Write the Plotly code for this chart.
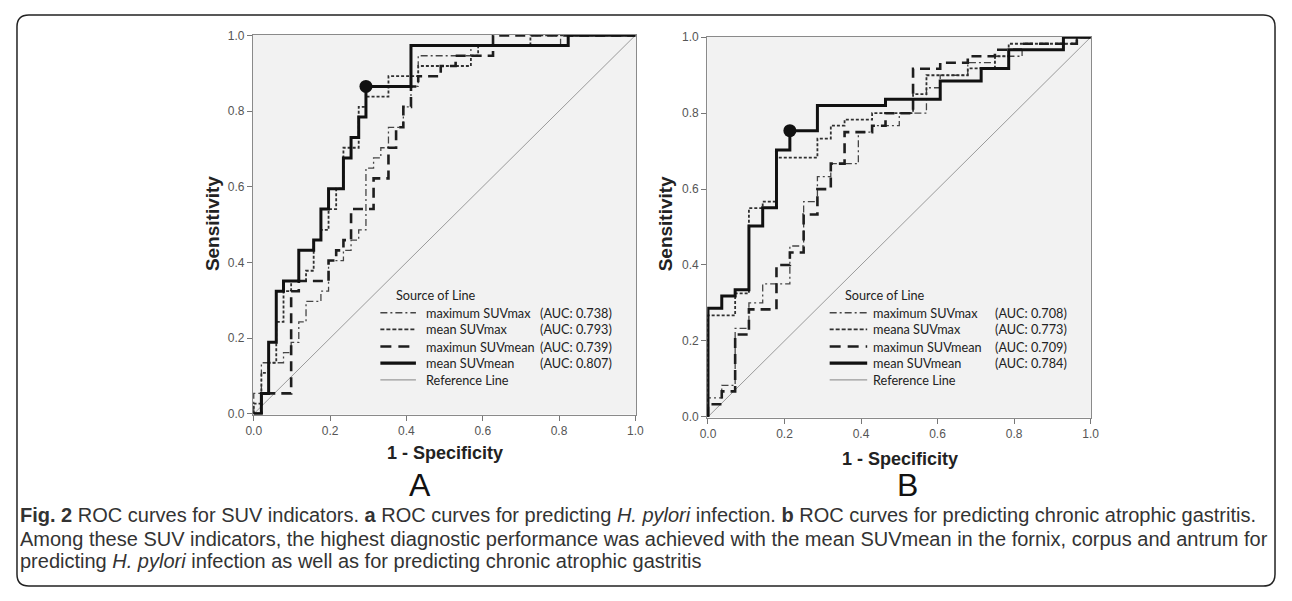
import plotly.graph_objects as go

# page is 1292x601; the browser keeps its default 8px body margin,
# so the figure is made 16px smaller to fit the window exactly
PAGE_W, PAGE_H, OFF = 1292, 601, 8
W, H = PAGE_W - 2 * OFF, PAGE_H - 2 * OFF

# ---------------- data ----------------
# Panel A : predicting H. pylori infection  (step ROC vertices, 1-specificity / sensitivity)
a_max_suvmax_x = [0, 0, 0.02, 0.078, 0.098, 0.118, 0.137, 0.176, 0.196, 0.235, 0.255, 0.275, 0.294, 0.314, 0.333, 0.353, 0.392, 0.412, 0.431, 0.569, 0.804, 1.0]
a_max_suvmax_y = [0, 0.054, 0.135, 0.162, 0.189, 0.243, 0.297, 0.324, 0.405, 0.432, 0.459, 0.486, 0.649, 0.676, 0.703, 0.757, 0.811, 0.865, 0.946, 0.973, 1.0, 1.0]

a_mean_suvmax_x = [0, 0, 0.02, 0.039, 0.059, 0.078, 0.098, 0.137, 0.157, 0.176, 0.196, 0.216, 0.235, 0.275, 0.294, 0.353, 0.431, 0.569, 0.588, 0.725, 1.0]
a_mean_suvmax_y = [0, 0.027, 0.108, 0.135, 0.243, 0.324, 0.351, 0.378, 0.459, 0.486, 0.541, 0.595, 0.703, 0.811, 0.838, 0.892, 0.919, 0.946, 0.973, 1.0, 1.0]

a_max_suvmean_x = [0, 0.02, 0.098, 0.118, 0.196, 0.216, 0.235, 0.255, 0.314, 0.353, 0.373, 0.392, 0.412, 0.431, 0.490, 0.529, 0.627, 1.0]
a_max_suvmean_y = [0, 0.054, 0.324, 0.351, 0.405, 0.432, 0.459, 0.541, 0.622, 0.703, 0.757, 0.811, 0.865, 0.892, 0.919, 0.946, 1.0, 1.0]

a_mean_suvmean_x = [0, 0.02, 0.039, 0.059, 0.078, 0.118, 0.157, 0.176, 0.196, 0.235, 0.255, 0.275, 0.294, 0.412, 0.824, 1.0]
a_mean_suvmean_y = [0, 0.054, 0.189, 0.324, 0.351, 0.432, 0.459, 0.541, 0.595, 0.676, 0.730, 0.784, 0.865, 0.973, 1.0, 1.0]
a_cutoff = (0.294, 0.865)

# Panel B : predicting chronic atrophic gastritis
b_max_suvmax_x = [0, 0, 0.036, 0.071, 0.107, 0.143, 0.214, 0.25, 0.286, 0.321, 0.393, 0.429, 0.5, 0.571, 0.607, 0.679, 0.75, 0.821, 0.929, 0.964, 1.0]
b_max_suvmax_y = [0, 0.05, 0.083, 0.233, 0.30, 0.35, 0.45, 0.567, 0.633, 0.667, 0.75, 0.767, 0.80, 0.867, 0.90, 0.933, 0.95, 0.967, 0.983, 1.0, 1.0]

b_mean_suvmax_x = [0, 0, 0.071, 0.107, 0.143, 0.179, 0.286, 0.321, 0.357, 0.429, 0.536, 0.571, 0.679, 0.75, 0.786, 0.964, 1.0]
b_mean_suvmax_y = [0, 0.267, 0.325, 0.55, 0.567, 0.683, 0.733, 0.767, 0.783, 0.80, 0.85, 0.90, 0.918, 0.95, 0.983, 1.0, 1.0]

b_max_suvmean_x = [0, 0, 0.036, 0.071, 0.107, 0.179, 0.214, 0.25, 0.286, 0.321, 0.357, 0.429, 0.464, 0.536, 0.607, 0.679, 0.75, 0.821, 0.964, 1.0]
b_max_suvmean_y = [0, 0.033, 0.067, 0.217, 0.283, 0.40, 0.433, 0.533, 0.60, 0.667, 0.75, 0.767, 0.80, 0.917, 0.933, 0.95, 0.967, 0.983, 1.0, 1.0]

b_mean_suvmean_x = [0, 0, 0.036, 0.071, 0.107, 0.143, 0.179, 0.214, 0.286, 0.464, 0.607, 0.714, 0.786, 0.929, 1.0]
b_mean_suvmean_y = [0, 0.286, 0.318, 0.335, 0.503, 0.551, 0.703, 0.754, 0.82, 0.837, 0.885, 0.918, 0.967, 1.0, 1.0]
b_cutoff = (0.214, 0.754)

ref_line = [0, 1]
tick_vals = [0.0, 0.2, 0.4, 0.6, 0.8, 1.0]
tick_text = ["0.0", "0.2", "0.4", "0.6", "0.8", "1.0"]

legend_names_a = ["maximum SUVmax", "mean SUVmax", "maximun SUVmean", "mean SUVmean", "Reference Line"]
legend_auc_a = ["(AUC: 0.738)", "(AUC: 0.793)", "(AUC: 0.739)", "(AUC: 0.807)", ""]
legend_names_b = ["maximum SUVmax", "meana SUVmax", "maximun SUVmean", "mean SUVmean", "Reference Line"]
legend_auc_b = ["(AUC: 0.708)", "(AUC: 0.773)", "(AUC: 0.709)", "(AUC: 0.784)", ""]

caption_lines = [
    "<b>Fig. 2</b> ROC curves for SUV indicators. <b>a</b> ROC curves for predicting <i>H. pylori</i> infection. "
    "<b>b</b> ROC curves for predicting chronic atrophic gastritis.",
    "Among these SUV indicators, the highest diagnostic performance was achieved with the mean SUVmean in the fornix, "
    "corpus and antrum for",
    "predicting <i>H. pylori</i> infection as well as for predicting chronic atrophic gastritis",
]

# ---------------- styles ----------------
STYLES = [
    dict(color="#454545", width=1.3, dash="7px,3px,2px,3px"),   # maximum SUVmax
    dict(color="#303030", width=1.8, dash="3px,2px"),           # mean SUVmax
    dict(color="#1e1e1e", width=2.6, dash="10px,6px"),          # maximun SUVmean
    dict(color="#111111", width=3.0),                           # mean SUVmean
    dict(color="#9a9a9a", width=1.0),                           # reference
]
SAMPLE_STYLES = [
    dict(color="#454545", width=1.3, dash="7px,3px,2px,3px"),
    dict(color="#303030", width=1.8, dash="4px,2px"),
    dict(color="#1e1e1e", width=2.6, dash="11px,7px"),
    dict(color="#111111", width=3.2),
    dict(color="#9a9a9a", width=1.2),
]


def px(x):
    """page pixel x -> paper fraction"""
    return (x - OFF) / W


def py(y):
    """page pixel y -> paper fraction"""
    return 1 - (y - OFF) / H


fig = go.Figure()

panels = [
    dict(xa="x", ya="y",
         curves=[(a_max_suvmax_x, a_max_suvmax_y), (a_mean_suvmax_x, a_mean_suvmax_y),
                 (a_max_suvmean_x, a_max_suvmean_y), (a_mean_suvmean_x, a_mean_suvmean_y)],
         names=legend_names_a, cutoff=a_cutoff),
    dict(xa="x2", ya="y2",
         curves=[(b_max_suvmax_x, b_max_suvmax_y), (b_mean_suvmax_x, b_mean_suvmax_y),
                 (b_max_suvmean_x, b_max_suvmean_y), (b_mean_suvmean_x, b_mean_suvmean_y)],
         names=legend_names_b, cutoff=b_cutoff),
]

for p in panels:
    fig.add_trace(go.Scatter(x=ref_line, y=ref_line, mode="lines", line=STYLES[4],
                             xaxis=p["xa"], yaxis=p["ya"], name="Reference Line",
                             showlegend=False, hoverinfo="skip"))
    for i, (cx, cy) in enumerate(p["curves"]):
        fig.add_trace(go.Scatter(x=cx, y=cy, mode="lines", line=dict(shape="hv", **STYLES[i]),
                                 xaxis=p["xa"], yaxis=p["ya"], name=p["names"][i],
                                 showlegend=False))
    fig.add_trace(go.Scatter(x=[p["cutoff"][0]], y=[p["cutoff"][1]], mode="markers",
                             marker=dict(size=13, color="#111111"), cliponaxis=False,
                             xaxis=p["xa"], yaxis=p["ya"], showlegend=False))

axis_common = dict(range=[-0.002, 1.002], tickvals=tick_vals, ticktext=tick_text,
                   ticks="outside", ticklen=5, tickcolor="#777777", tickwidth=1,
                   showline=True, linecolor="#8a8a8a", linewidth=1.2, mirror=True,
                   showgrid=False, zeroline=False,
                   tickfont=dict(family="Liberation Sans, Arial", size=12, color="#555555"))

fig.update_layout(
    width=W, height=H, margin=dict(l=0, r=0, t=0, b=0),
    paper_bgcolor="white", plot_bgcolor="#f2f2f2", showlegend=False,
    xaxis=dict(domain=[px(248), px(636)], anchor="y", **axis_common),
    yaxis=dict(domain=[py(417), py(29)], anchor="x", **axis_common),
    xaxis2=dict(domain=[px(708), px(1097)], anchor="y2", **axis_common),
    yaxis2=dict(domain=[py(420), py(31)], anchor="x2", **axis_common),
)

annotations = []
shapes = []


def txt(x, y, text, size, family="Lato", color="#222222", xanchor="left", yanchor="middle", angle=0):
    annotations.append(dict(x=px(x), y=py(y), xref="paper", yref="paper", text=text, showarrow=False,
                            xanchor=xanchor, yanchor=yanchor, textangle=angle,
                            font=dict(family=family, size=size, color=color)))


# axis titles and panel letters
txt(207, 222, "<b>Sensitivity</b>", 19, family="Liberation Sans, Arial", xanchor="center", angle=-90)
txt(442, 456, "<b>1 - Specificity</b>", 18, family="Liberation Sans, Arial", xanchor="center")
txt(417, 489, "A", 32, family="Liberation Sans, Arial", color="#111111", xanchor="center")
txt(666, 222, "<b>Sensitivity</b>", 19, family="Liberation Sans, Arial", xanchor="center", angle=-90)
txt(903, 462, "<b>1 - Specificity</b>", 18, family="Liberation Sans, Arial", xanchor="center")
txt(911, 489, "B", 32, family="Liberation Sans, Arial", color="#111111", xanchor="center")

# custom legends
leg_rows = [313, 330, 347.5, 364.5, 381.5]
legends = [
    dict(title_x=391, s0=377, s1=413, lab_x=421, auc_x=537, names=legend_names_a, aucs=legend_auc_a),
    dict(title_x=845, s0=832, s1=870, lab_x=874, auc_x=997, names=legend_names_b, aucs=legend_auc_b),
]
for lg in legends:
    txt(lg["title_x"], 295, "Source of Line", 12.7, color="#222222")
    for i, yy in enumerate(leg_rows):
        shapes.append(dict(type="line", xref="paper", yref="paper",
                           x0=px(lg["s0"]), x1=px(lg["s1"]), y0=py(yy), y1=py(yy),
                           line=SAMPLE_STYLES[i]))
        txt(lg["lab_x"], yy, lg["names"][i], 12.7, color="#222222")
        if lg["aucs"][i]:
            txt(lg["auc_x"], yy, lg["aucs"][i], 12.7, color="#222222")

# caption
for yy, line in zip([520, 544, 566], caption_lines):
    txt(10, yy, line, 20, family="Liberation Sans, Arial", color="#333333")

# outer rounded frame (kept inside the figure)
x0, x1, y0, y1, r = 9, 1283, 9, 592, 12
rx, ry = r / W, r / H
X0, X1, Y0, Y1 = px(x0), px(x1), py(y1), py(y0)
path = (f"M {X0+rx},{Y1} L {X1-rx},{Y1} Q {X1},{Y1} {X1},{Y1-ry} L {X1},{Y0+ry} "
        f"Q {X1},{Y0} {X1-rx},{Y0} L {X0+rx},{Y0} Q {X0},{Y0} {X0},{Y0+ry} "
        f"L {X0},{Y1-ry} Q {X0},{Y1} {X0+rx},{Y1} Z")
shapes.append(dict(type="path", xref="paper", yref="paper", path=path,
                   line=dict(color="#222222", width=1.5)))

fig.update_layout(annotations=annotations, shapes=shapes)
fig.write_html("out.html", config=dict(displayModeBar=False))
